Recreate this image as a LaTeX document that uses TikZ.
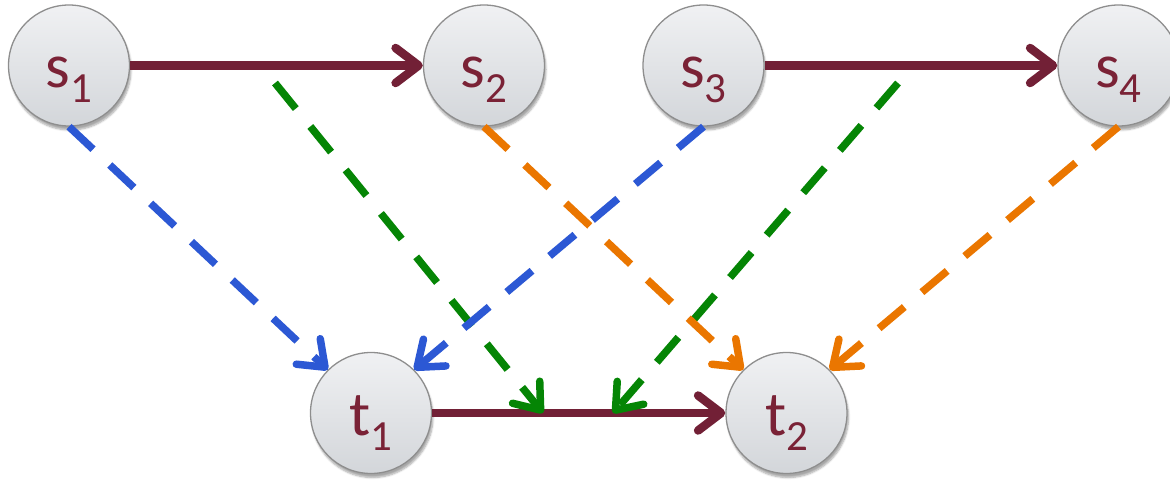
\documentclass[tikz,border=0pt]{standalone}
\usepackage{fontspec}
\setmainfont{Carlito}
\usetikzlibrary{arrows.meta,shadows.blur}
\definecolor{maroon}{HTML}{722036}
\definecolor{txtred}{HTML}{7A2236}
\definecolor{eblue}{HTML}{2C58D4}
\definecolor{egreen}{HTML}{058505}
\definecolor{eorange}{HTML}{EA7600}
\definecolor{ringgray}{HTML}{8E8E8E}
\definecolor{filltop}{HTML}{F0F1F3}
\definecolor{fillbot}{HTML}{D3D6DA}
\newcommand\vlab[2]{#1\raisebox{-15pt}{\fontsize{43}{43}\selectfont #2}}
\begin{document}
\begin{tikzpicture}[x=1pt,y=-1pt,
  vtx/.style={circle, minimum size=121pt, inner sep=0pt, draw=ringgray, line width=1.3pt,
    top color=filltop, bottom color=fillbot,
    blur shadow={shadow xshift=1.5pt, shadow yshift=-4pt, shadow blur steps=6, shadow opacity=35},
    text=txtred, font=\fontsize{63}{63}\selectfont, text height=44pt, text depth=0pt},
  tip/.style={-{Straight Barb[length=23pt,width=35pt,round]}},
  mainedge/.style={tip, line width=8.5pt, draw=maroon},
  dashedge/.style={tip, line width=7.5pt, dash pattern=on 33pt off 23pt}
]
\useasboundingbox (0,0) rectangle (1170,482);
\node[vtx] (s1) at (69,65.5) {\vlab{s}{1}};
\node[vtx] (s2) at (484,65.5) {\vlab{s}{2}};
\node[vtx] (s3) at (703.5,65.5) {\vlab{s}{3}};
\node[vtx] (s4) at (1118.5,65.5) {\vlab{s}{4}};
\node[vtx] (t1) at (371,413) {\vlab{t}{1}};
\node[vtx] (t2) at (786.5,413) {\vlab{t}{2}};
\coordinate (g1s) at (275,83);
\coordinate (g1e) at (543,413);
\coordinate (g2s) at (898,83);
\coordinate (g2e) at (613,413);
\draw[mainedge] (s1) -- (s2);
\draw[mainedge] (s3) -- (s4);
\draw[mainedge] (t1) -- (t2);
\draw[dashedge, draw=egreen] (g1s) -- (g1e);
\draw[dashedge, draw=egreen] (g2s) -- (g2e);
\draw[dashedge, draw=eblue] (s1.south) -- (t1.north west);
\draw[dashedge, draw=eblue] (s3.south) -- (t1.north east);
\draw[dashedge, draw=eorange] (s2.south) -- (t2.north west);
\draw[dashedge, draw=eorange] (s4.south) -- (t2.north east);
\end{tikzpicture}
\end{document}
